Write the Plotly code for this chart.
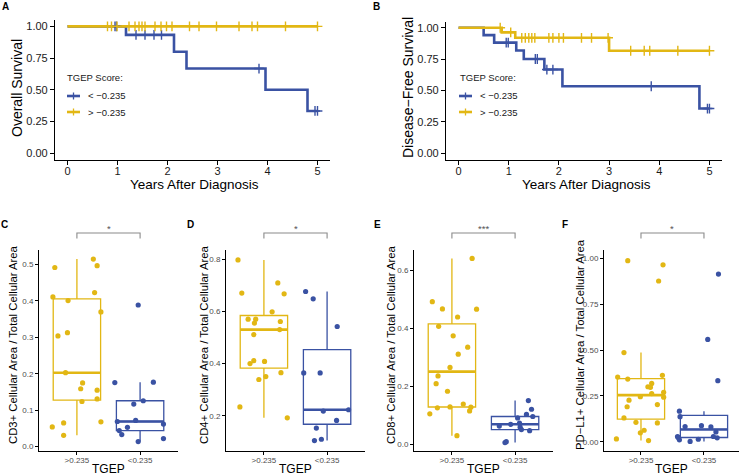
import numpy as np
import plotly.graph_objects as go

# ---------------- DATA ----------------
# Kaplan-Meier step curves (time, survival) and censor times
A_low_t = [0, 1.17, 2.13, 2.38, 3.96, 4.80, 5.0]
A_low_s = [1.0, 0.933, 0.80, 0.667, 0.50, 0.333, 0.333]
A_low_cens = [0.95, 0.98, 1.37, 1.55, 1.73, 1.88, 3.83, 4.95, 5.0]
A_high_t = [0, 5.0]
A_high_s = [1.0, 1.0]
A_high_cens = [0.80, 0.88, 0.99, 1.23, 1.35, 1.43, 1.49, 1.55, 1.75, 1.87, 1.98,
               2.09, 2.44, 2.63, 2.98, 3.43, 3.69, 3.80, 4.36, 5.0]

B_low_t = [0, 0.50, 0.71, 1.15, 1.30, 1.71, 2.07, 4.80, 5.0]
B_low_s = [1.0, 0.941, 0.882, 0.819, 0.751, 0.667, 0.534, 0.356, 0.356]
B_low_cens = [0.95, 0.99, 1.53, 1.57, 1.76, 1.88, 3.84, 4.96, 5.0]
B_high_t = [0, 0.86, 1.13, 3.0, 5.0]
B_high_s = [1.0, 0.963, 0.920, 0.817, 0.817]
B_high_cens = [0.83, 1.04, 1.26, 1.33, 1.40, 1.46, 1.52, 1.80, 1.88, 2.00, 2.09,
               2.45, 2.65, 2.98, 3.43, 3.70, 3.81, 4.37, 5.0]

legend_labels = ["< \u22120.235", "> \u22120.235"]
group_ticks = [">0.235", "<0.235"]

# Box/jitter panels: values and horizontal jitter offsets (in category units)
C_high = [0.492, 0.411, 0.401, 0.304, 0.313, 0.203, 0.515, 0.497, 0.423, 0.370,
          0.175, 0.159, 0.124, 0.155, 0.131, 0.068, 0.054, 0.065, 0.031]
C_high_j = [-0.35, -0.38, -0.14, -0.30, -0.15, -0.18, 0.26, 0.32, 0.28, 0.38,
            0.09, 0.06, 0.08, 0.32, 0.32, 0.38, -0.39, -0.21, -0.21]
C_low = [0.389, 0.176, 0.177, 0.117, 0.126, 0.069, 0.072, 0.044, 0.033, 0.053,
         0.014, 0.062, 0.022]
C_low_j = [-0.03, -0.40, 0.21, -0.10, 0.05, -0.36, -0.07, -0.33, -0.29, -0.20,
           -0.03, 0.37, 0.37]

D_high = [0.797, 0.670, 0.709, 0.667, 0.598, 0.570, 0.570, 0.555, 0.561, 0.530,
          0.511, 0.411, 0.400, 0.408, 0.365, 0.350, 0.339, 0.234, 0.192]
D_high_j = [-0.41, -0.35, 0.22, 0.32, 0.13, -0.25, -0.13, -0.15, 0.26, 0.25,
            -0.16, -0.16, -0.22, 0.01, 0.27, 0.03, -0.08, -0.38, 0.37]
D_low = [0.676, 0.648, 0.542, 0.364, 0.364, 0.218, 0.223, 0.182, 0.153, 0.105, 0.110]
D_low_j = [-0.34, -0.22, 0.16, -0.37, -0.11, -0.06, 0.34, 0.15, -0.17, -0.20, -0.09]

E_high = [0.640, 0.491, 0.466, 0.465, 0.438, 0.406, 0.373, 0.334, 0.310, 0.264,
          0.235, 0.208, 0.182, 0.138, 0.128, 0.125, 0.127, 0.114, 0.104, 0.029]
E_high_j = [0.32, -0.31, -0.15, 0.39, 0.09, -0.21, 0.02, 0.25, 0.10, -0.03,
            -0.22, -0.25, -0.07, 0.18, -0.03, -0.23, 0.30, 0.28, -0.35, 0.08]
E_low = [0.150, 0.120, 0.102, 0.095, 0.090, 0.062, 0.068, 0.072, 0.058, 0.050,
         0.046, 0.008, 0.005]
E_low_j = [0.21, 0.26, 0.18, 0.28, 0.04, -0.25, -0.07, 0.07, 0.08, 0.10,
           0.23, -0.14, -0.16]

F_high = [0.987, 0.964, 0.876, 0.486, 0.353, 0.342, 0.362, 0.318, 0.300, 0.297,
          0.270, 0.263, 0.227, 0.246, 0.243, 0.191, 0.203, 0.130, 0.106, 0.103,
          0.063, 0.049, 0.007, 0.016]
F_high_j = [-0.21, 0.35, 0.28, -0.27, -0.37, -0.21, 0.34, 0.17, 0.11, 0.15,
            0.36, 0.17, -0.19, -0.01, 0.36, -0.22, 0.26, -0.27, -0.08, 0.26,
            0.05, -0.01, 0.12, -0.39]
F_low = [0.914, 0.558, 0.333, 0.167, 0.137, 0.083, 0.088, 0.081, 0.054, 0.029,
         0.011, 0.024, 0.002, 0.014, 0.029, 0.022]
F_low_j = [0.23, 0.06, 0.22, -0.39, -0.38, -0.30, -0.04, 0.11, 0.19, -0.42,
           -0.39, -0.41, -0.22, -0.09, 0.15, 0.21]

C_ticks = [0.0, 0.1, 0.2, 0.3, 0.4, 0.5]
D_ticks = [0.2, 0.4, 0.6, 0.8]
E_ticks = [0.0, 0.2, 0.4, 0.6]
F_ticks = [0.0, 0.25, 0.50, 0.75, 1.00]
km_yticks = [0.0, 0.25, 0.5, 0.75, 1.0]
km_xticks = [0, 1, 2, 3, 4, 5]

# ---------------- STYLE ----------------
W, H = 740, 476
YEL = '#E2B714'
BLU = '#3A52A3'
FONT = 'Liberation Sans, Arial, sans-serif'


def fx(p):
    return p / W


def fy(p):
    return 1 - p / H


fig = go.Figure()


def step_at(t_arr, s_arr, t):
    i = np.searchsorted(np.array(t_arr), t, side='right') - 1
    return float(np.array(s_arr)[i])


# ---------------- KM PANELS ----------------
km = [
    ('x', 'y', (A_low_t, A_low_s, A_low_cens), (A_high_t, A_high_s, A_high_cens)),
    ('x2', 'y2', (B_low_t, B_low_s, B_low_cens), (B_high_t, B_high_s, B_high_cens)),
]
for xa, ya, low, high in km:
    for (t, s, c), col in ((low, BLU), (high, YEL)):
        fig.add_trace(go.Scatter(x=t, y=s, mode='lines', line=dict(color=col, width=2.6, shape='hv'),
                                 xaxis=xa, yaxis=ya, showlegend=False, hoverinfo='skip'))
    for (t, s, c), col in ((low, BLU), (high, YEL)):
        fig.add_trace(go.Scatter(x=c, y=[step_at(t, s, v) for v in c], mode='markers',
                                 marker=dict(symbol='cross-thin', size=7, line=dict(color=col, width=1.4)),
                                 xaxis=xa, yaxis=ya, showlegend=False, hoverinfo='skip'))

# ---------------- BOX PANELS ----------------
def ggbox(vals):
    v = np.array(vals)
    q1, med, q3 = np.percentile(v, [25, 50, 75])
    iqr = q3 - q1
    lo = v[v >= q1 - 1.5 * iqr].min()
    hi = v[v <= q3 + 1.5 * iqr].max()
    return q1, med, q3, lo, hi


box_panels = [
    ('x3', 'y3', C_high, C_high_j, C_low, C_low_j),
    ('x4', 'y4', D_high, D_high_j, D_low, D_low_j),
    ('x5', 'y5', E_high, E_high_j, E_low, E_low_j),
    ('x6', 'y6', F_high, F_high_j, F_low, F_low_j),
]
BW = 0.75
for xa, ya, hv, hj, lv, lj in box_panels:
    for pos, vals, jit, col in ((1, hv, hj, YEL), (2, lv, lj, BLU)):
        q1, med, q3, lo, hi = ggbox(vals)
        fig.add_trace(go.Box(x=[pos], q1=[q1], median=[med], q3=[q3], lowerfence=[lo], upperfence=[hi],
                             width=BW, boxpoints=False, fillcolor='rgba(255,255,255,0)',
                             line=dict(color=col, width=1.3), whiskerwidth=0,
                             xaxis=xa, yaxis=ya, showlegend=False, hoverinfo='skip'))
        fig.add_trace(go.Scatter(x=[pos - BW / 2, pos + BW / 2], y=[med, med], mode='lines',
                                 line=dict(color=col, width=2.6), xaxis=xa, yaxis=ya,
                                 showlegend=False, hoverinfo='skip'))
        fig.add_trace(go.Scatter(x=[pos + j for j in jit], y=vals, mode='markers',
                                 marker=dict(color=col, size=5.2), xaxis=xa, yaxis=ya,
                                 showlegend=False, hoverinfo='skip'))

# ---------------- AXES ----------------
def axis_common(color, size, width):
    return dict(showline=True, linecolor='black', linewidth=width, ticks='outside',
                tickcolor='black', tickwidth=width, showgrid=False, zeroline=False,
                tickfont=dict(family=FONT, size=size, color=color), fixedrange=True)


layout_axes = {}
top = [('xaxis', 'yaxis', 'y', 'x', (55, 330), (20, 159.5)),
       ('xaxis2', 'yaxis2', 'y2', 'x2', (446, 722), (21.5, 159.5))]
for xk, yk, yanc, xanc, (x0, x1), (y0, y1) in top:
    layout_axes[xk] = dict(axis_common('#1a1a1a', 11, 1.2), domain=[fx(x0), fx(x1)], range=[-0.25, 5.25],
                           tickvals=km_xticks, anchor=yanc, ticklen=4, ticklabelstandoff=-3)
    layout_axes[yk] = dict(axis_common('#1a1a1a', 11, 1.2), domain=[fy(y1), fy(y0)], range=[-0.05, 1.05],
                           tickvals=km_yticks, tickformat='.2f', anchor=xanc, ticklen=4)

bottom = [
    ('xaxis3', 'yaxis3', 'y3', 'x3', (39, 178), [0.4, 2.6], [-0.012, 0.54], C_ticks, '.1f'),
    ('xaxis4', 'yaxis4', 'y4', 'x4', (226, 365), [0.4, 2.6], [0.065, 0.835], D_ticks, '.1f'),
    ('xaxis5', 'yaxis5', 'y5', 'x5', (414, 553), [0.4, 2.6], [-0.024, 0.669], E_ticks, '.1f'),
    ('xaxis6', 'yaxis6', 'y6', 'x6', (604, 739), [0.413, 2.556], [-0.05, 1.045], F_ticks, '.2f'),
]
for xk, yk, yanc, xanc, (x0, x1), xr, yr, yt, yf in bottom:
    layout_axes[xk] = dict(axis_common('#4D4D4D', 8, 1.1), domain=[fx(x0), fx(x1)], range=xr,
                           tickvals=[1, 2], ticktext=group_ticks, anchor=yanc, ticklen=3,
                           ticklabelstandoff=-2)
    layout_axes[yk] = dict(axis_common('#4D4D4D', 8, 1.1), domain=[fy(451), fy(250)], range=yr,
                           tickvals=yt, tickformat=yf, anchor=xanc, ticklen=3)

# ---------------- ANNOTATIONS / SHAPES ----------------
ann = []
shapes = []


def text(x, y, s, size, color='black', angle=0, xanchor='center', bold=False):
    ann.append(dict(x=fx(x), y=fy(y), xref='paper', yref='paper', text=('<b>%s</b>' % s) if bold else s,
                    showarrow=False, textangle=angle, xanchor=xanchor, yanchor='middle',
                    font=dict(family=FONT, size=size, color=color)))


# panel letters
for L, x, y in (('A', 5, 7), ('B', 376, 7), ('C', 4, 224), ('D', 190, 224), ('E', 377, 224), ('F', 565, 224)):
    text(x, y, L, 10, bold=True)

# KM titles
text(17, 88, 'Overall Survival', 14, angle=-90)
text(194, 184.5, 'Years After Diagnosis', 13.5)
text(408, 88, 'Disease\u2212Free Survival', 14, angle=-90)
text(586, 184.5, 'Years After Diagnosis', 13.5)

# KM legends
for lx, kx in ((65, 67), (458, 459)):
    text(lx, 78, 'TGEP Score:', 9.5, color='#1a1a1a', xanchor='left')
    for k, (lab, col) in enumerate(zip(legend_labels, (BLU, YEL))):
        yy = 96 + 16 * k
        shapes.append(dict(type='line', xref='paper', yref='paper', x0=fx(kx), x1=fx(kx + 13),
                           y0=fy(yy), y1=fy(yy), line=dict(color=col, width=2.6)))
        shapes.append(dict(type='line', xref='paper', yref='paper', x0=fx(kx + 6.5), x1=fx(kx + 6.5),
                           y0=fy(yy - 3.5), y1=fy(yy + 3.5), line=dict(color=col, width=1.3)))
        text(kx + 19, yy, lab, 9.5, color='#1a1a1a', xanchor='left')

# box titles
ytitles = ['CD3+ Cellular Area / Total Cellular Area', 'CD4+ Cellular Area / Total Cellular Area',
           'CD8+ Cellular Area / Total Cellular Area', 'PD\u2212L1+ Cellular Area / Total Cellular Area']
ytx = [13, 204, 391, 580]
stars = ['*', '*', '***', '*']
for i, (xk, yk, yanc, xanc, (x0, x1), xr, yr, yt, yf) in enumerate(bottom):
    text(ytx[i], 345, ytitles[i], 11.3, angle=-90)
    text((x0 + x1) / 2, 469, 'TGEP', 12)
    xa = 'x%d' % (i + 3)
    shapes.append(dict(type='path', xref=xa, yref='paper',
                       path='M 1,%f L 1,%f L 2,%f L 2,%f' % (fy(238.5), fy(233), fy(233), fy(238.5)),
                       line=dict(color='#8a8a8a', width=1.1)))
    ann.append(dict(x=1.5, y=fy(228.5), xref=xa, yref='paper', text=stars[i], showarrow=False,
                    xanchor='center', yanchor='middle', font=dict(family=FONT, size=9.5, color='#555555')))

fig.update_layout(width=W, height=H, margin=dict(l=0, r=0, t=0, b=0), plot_bgcolor='white',
                  paper_bgcolor='white', annotations=ann, shapes=shapes, showlegend=False,
                  **layout_axes)

fig.write_html('out.html', config={'displayModeBar': False},
               post_script="document.body.style.margin='0';document.body.style.overflow='hidden';")
